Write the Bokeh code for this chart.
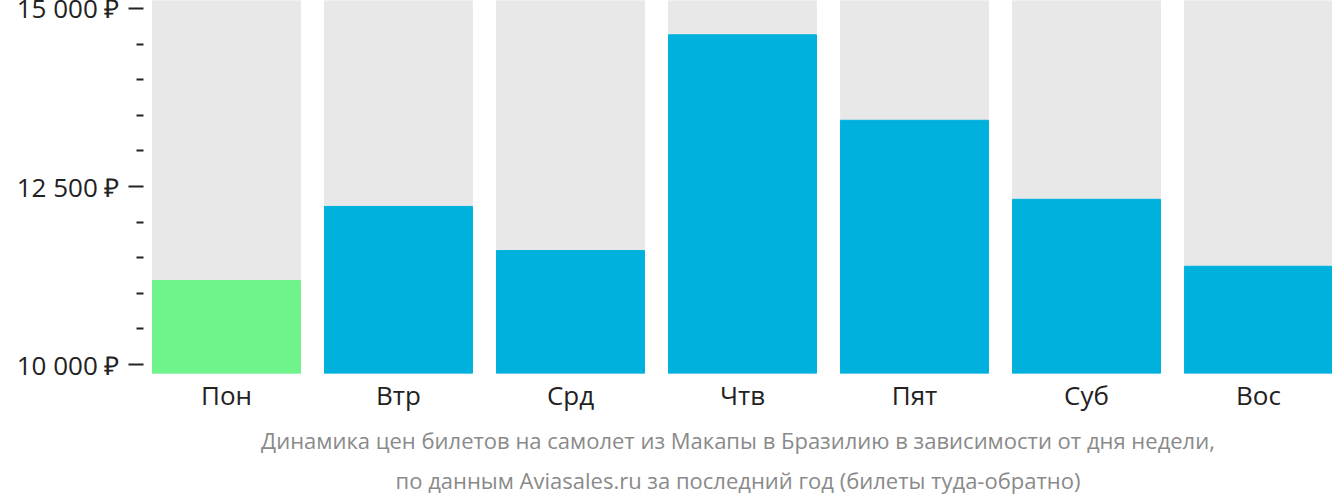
from bokeh.plotting import figure
from bokeh.models import Range1d, FixedTicker, Title, ColumnDataSource
from bokeh.embed import file_html
from bokeh.resources import INLINE

days = ["Пон", "Втр", "Срд", "Чтв", "Пят", "Суб", "Вос"]
prices = [11180, 12220, 11600, 14630, 13430, 12320, 11380]
colors = ["#6ef48a", "#00b1dd", "#00b1dd", "#00b1dd", "#00b1dd", "#00b1dd", "#00b1dd"]
major_ticks = [10000, 12500, 15000]
major_labels = ["10 000 ₽", "12 500 ₽", "15 000 ₽"]
minor_ticks = [10500, 11000, 11500, 12000, 13000, 13500, 14000, 14500]
caption1 = "Динамика цен билетов на самолет из Макапы в Бразилию в зависимости от дня недели,"
caption2 = "по данным Aviasales.ru за последний год (билеты туда-обратно)"

y0, y1 = 9874, 15112
xs = list(range(len(days)))
src = ColumnDataSource(dict(x=xs, top=prices, color=colors,
                            bottom=[y0] * len(xs), full=[y1] * len(xs)))

TOP_PAD = 14
p = figure(frame_width=1189, frame_height=373, output_backend="svg", toolbar_location=None,
           x_range=Range1d(-0.43 - 9 / 172, 6.43), y_range=Range1d(y0, y1),
           min_border_left=143, min_border_right=0, min_border_top=TOP_PAD, min_border_bottom=0,
           styles={"margin-top": f"-{TOP_PAD}px"})
p.outline_line_color = None
p.grid.visible = False
p.background_fill_color = "white"

p.vbar(x="x", width=0.86, bottom="bottom", top="full", color="#e8e8e8", source=src)
p.vbar(x="x", width=0.86, bottom="bottom", top="top", color="color", source=src)

ya = p.yaxis[0]
ya.ticker = FixedTicker(ticks=major_ticks, minor_ticks=minor_ticks)
ya.major_label_overrides = {t: l for t, l in zip(major_ticks, major_labels)}
ya.axis_line_color = None
ya.major_tick_in = 0
ya.major_tick_out = 15
ya.minor_tick_in = 0
ya.minor_tick_out = 7
ya.major_tick_line_width = 2
ya.minor_tick_line_width = 2
ya.major_tick_line_color = "#222222"
ya.minor_tick_line_color = "#222222"
ya.major_label_text_font = "Open Sans"
ya.major_label_text_font_size = "26px"
ya.major_label_text_color = "#222222"
ya.major_label_standoff = 9

xa = p.xaxis[0]
xa.ticker = FixedTicker(ticks=xs)
xa.major_label_overrides = {i: d for i, d in enumerate(days)}
xa.axis_line_color = None
xa.major_tick_line_color = None
xa.minor_tick_line_color = None
xa.major_tick_in = 0
xa.major_tick_out = 0
xa.minor_tick_in = 0
xa.minor_tick_out = 0
xa.major_label_text_font = "Open Sans"
xa.major_label_text_font_size = "26px"
xa.major_label_text_color = "#222222"
xa.major_label_standoff = 3

for txt, off in [(caption1, 15), (caption2, 0)]:
    t = Title(text=txt, align="center", text_font="Open Sans", text_font_size="22px",
              text_color="#8a8a8a", text_font_style="normal", standoff=off)
    p.add_layout(t, "below")

open("out.html", "w").write(file_html(p, INLINE))
